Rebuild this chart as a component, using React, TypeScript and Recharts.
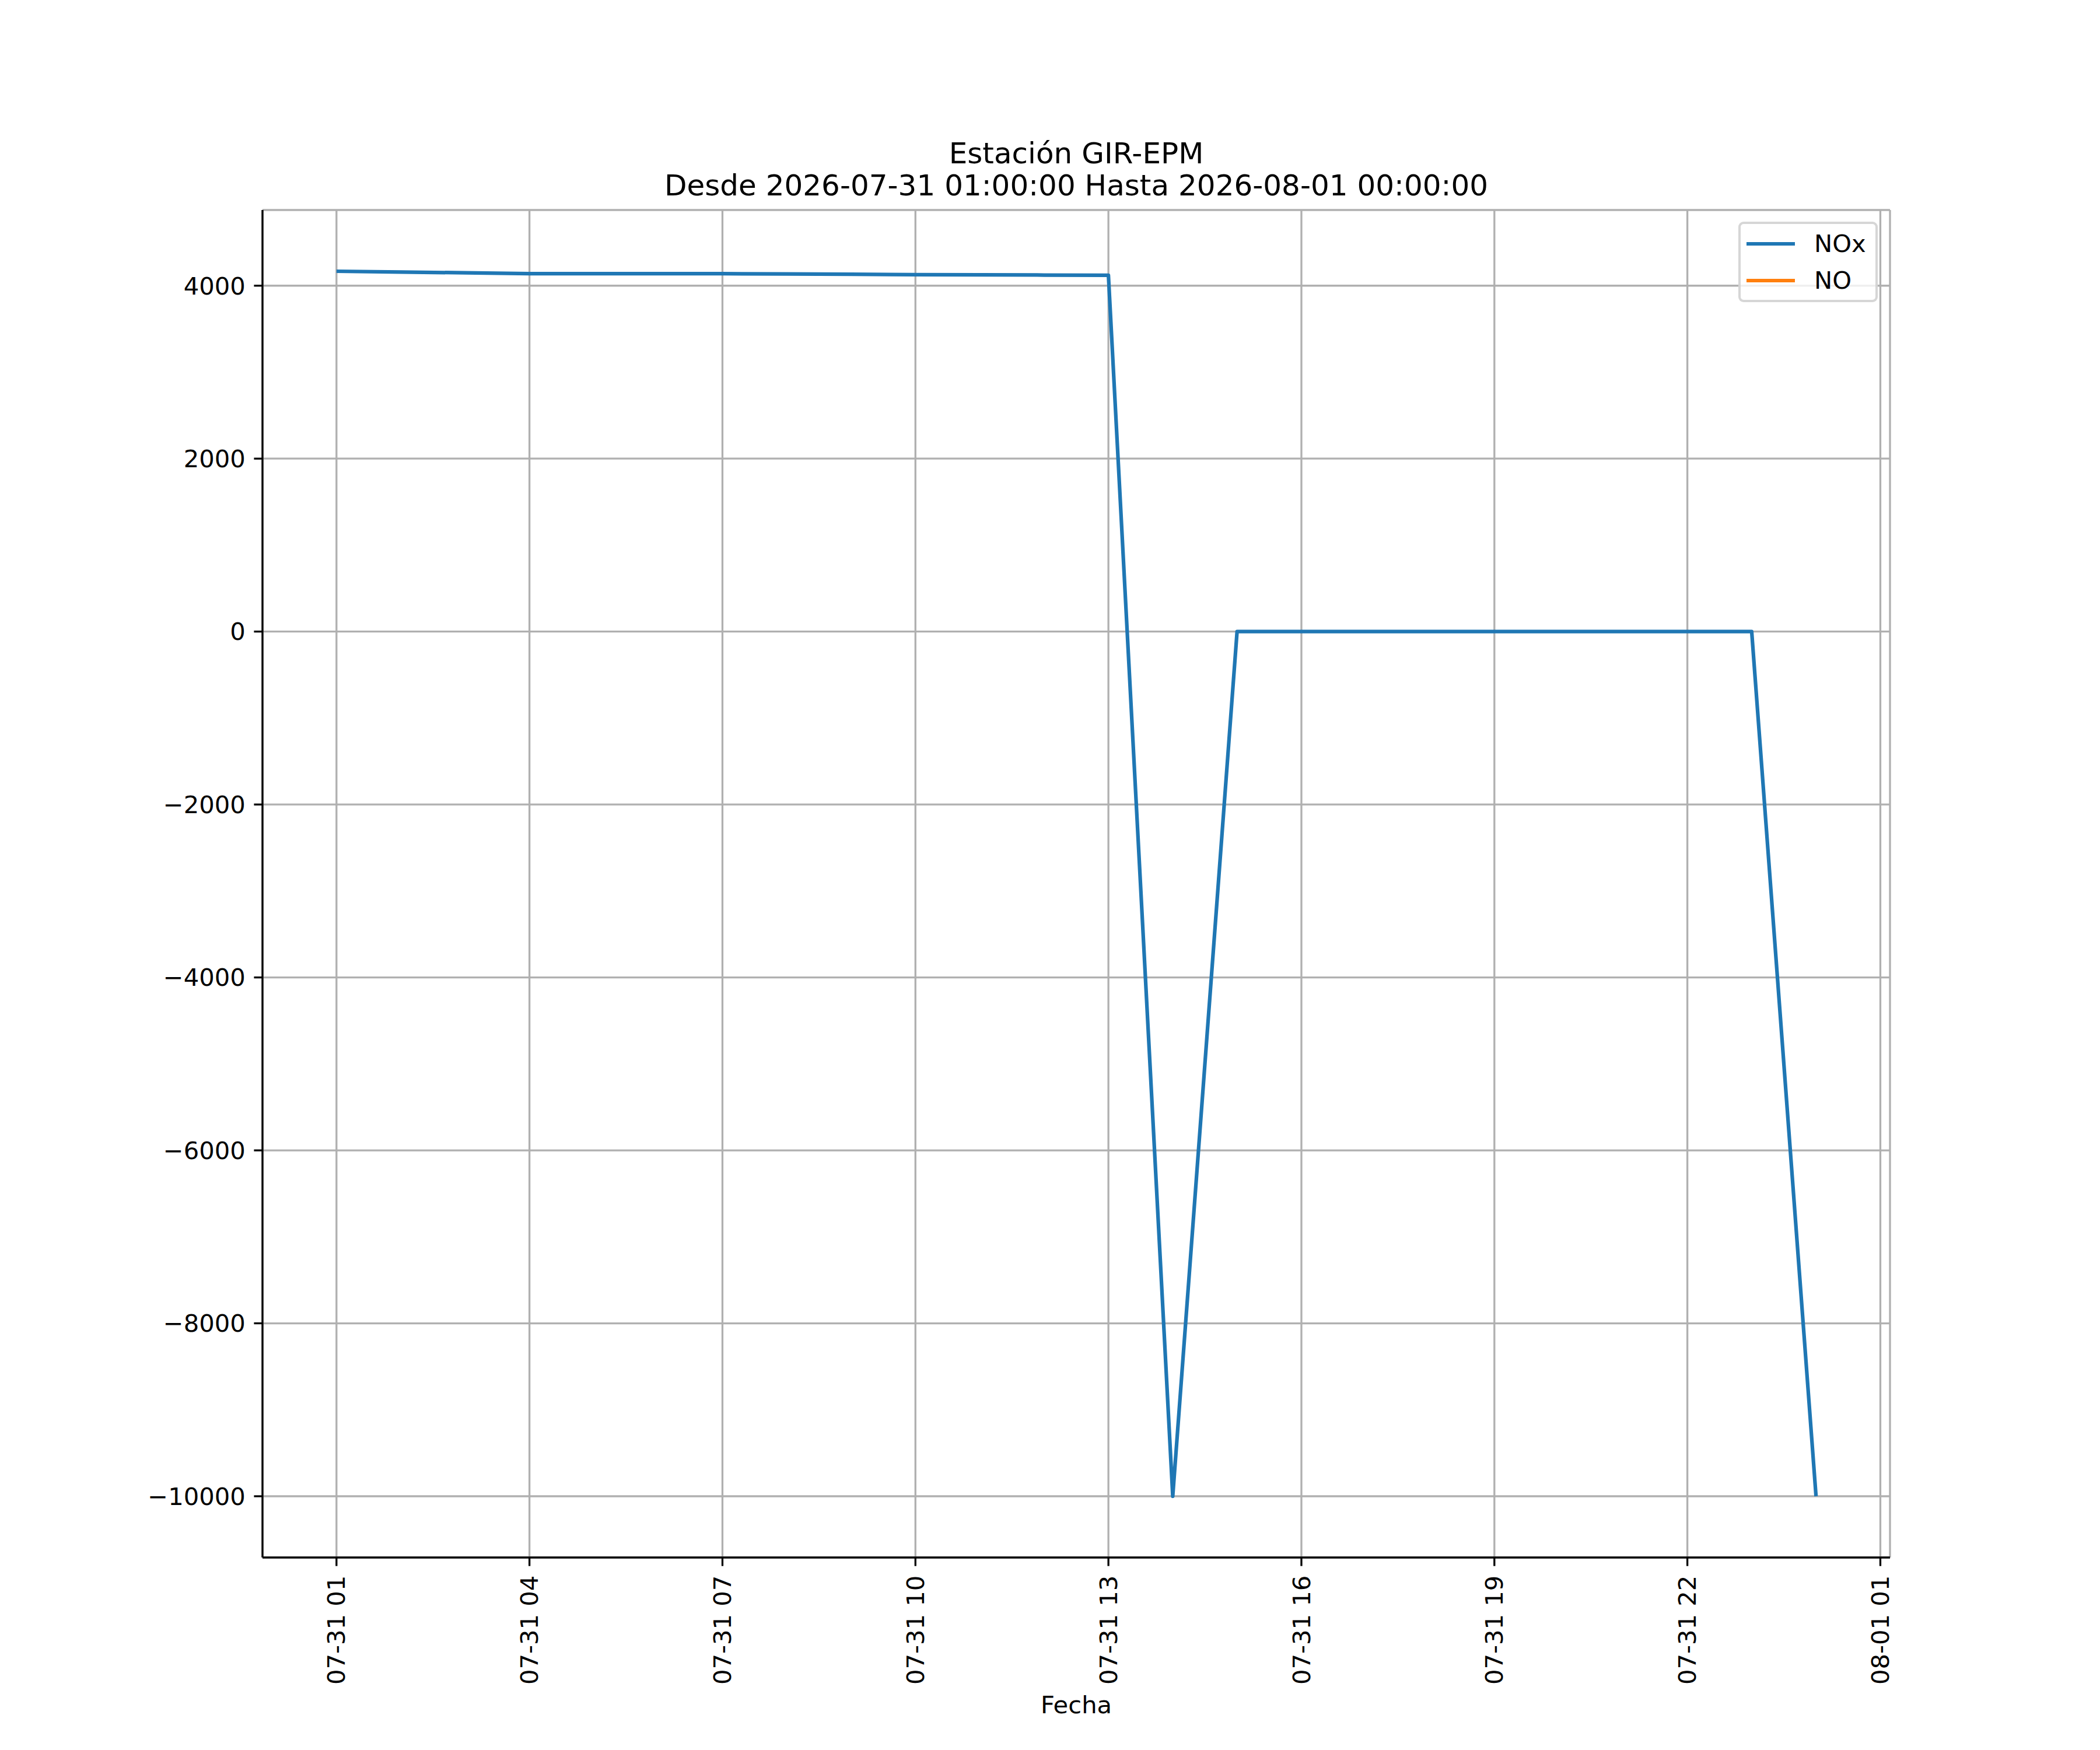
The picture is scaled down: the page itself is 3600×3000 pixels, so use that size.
import { CartesianGrid, Legend, Line, LineChart, XAxis, YAxis } from "recharts";

// hourly readings, station GIR-EPM
const times = [
  "2026-07-31 01:00", "2026-07-31 02:00", "2026-07-31 03:00", "2026-07-31 04:00",
  "2026-07-31 05:00", "2026-07-31 06:00", "2026-07-31 07:00", "2026-07-31 08:00",
  "2026-07-31 09:00", "2026-07-31 10:00", "2026-07-31 11:00", "2026-07-31 12:00",
  "2026-07-31 13:00", "2026-07-31 14:00", "2026-07-31 15:00", "2026-07-31 16:00",
  "2026-07-31 17:00", "2026-07-31 18:00", "2026-07-31 19:00", "2026-07-31 20:00",
  "2026-07-31 21:00", "2026-07-31 22:00", "2026-07-31 23:00", "2026-08-01 00:00",
];

const noxValues = [
  4167, 4158, 4149, 4140, 4140, 4140, 4139, 4136, 4132, 4128, 4126, 4123,
  4120, -10000, 0, 0, 0, 0, 0, 0, 0, 0, 0, -10000,
];

// NO has no valid readings in this window
const noValues = [
  null, null, null, null, null, null, null, null, null, null, null, null,
  null, null, null, null, null, null, null, null, null, null, null, null,
];

const xTickTimes = [
  "2026-07-31 01:00", "2026-07-31 04:00", "2026-07-31 07:00", "2026-07-31 10:00",
  "2026-07-31 13:00", "2026-07-31 16:00", "2026-07-31 19:00", "2026-07-31 22:00",
  "2026-08-01 01:00",
];

const yTicks = [-10000, -8000, -6000, -4000, -2000, 0, 2000, 4000];

const series = [
  { key: "nox", label: "NOx", color: "#1f77b4" },
  { key: "no", label: "NO", color: "#ff7f0e" },
];

const TITLE = ["Estación GIR-EPM", "Desde 2026-07-31 01:00:00 Hasta 2026-08-01 00:00:00"];
const X_LABEL = "Fecha";

const FONT = "'DejaVu Sans', sans-serif";
const TICK_FS = 41.7;
const SPINE = 3.3;

function toTs(s: string): number {
  return Date.parse(s.replace(" ", "T") + ":00Z");
}

const data = times.map((t, i) => ({ t: toTs(t), nox: noxValues[i], no: noValues[i] }));
const xTicks = xTickTimes.map(toTs);

// matplotlib-style 5% margins around the data
const tMin = Math.min(...data.map((d) => d.t));
const tMax = Math.max(...data.map((d) => d.t));
const tPad = (tMax - tMin) * 0.05;
const vMin = Math.min(...noxValues);
const vMax = Math.max(...noxValues);
const vPad = (vMax - vMin) * 0.05;

function pad2(n: number): string {
  return String(n).padStart(2, "0");
}

function formatTick(ts: number): string {
  const d = new Date(ts);
  return `${pad2(d.getUTCMonth() + 1)}-${pad2(d.getUTCDate())} ${pad2(d.getUTCHours())}`;
}

function formatY(v: number): string {
  return v < 0 ? "\u2212" + String(-v) : String(v);
}

function DateTick(props: any) {
  const { x, y, payload } = props;
  return (
    <g transform={`translate(${x},${y})`}>
      <text transform="rotate(-90)" textAnchor="end" dy="0.35em" fontSize={TICK_FS} fill="#000">
        {formatTick(payload.value)}
      </text>
    </g>
  );
}

function LegendBox(props: any) {
  const raw = props.payload || [];
  // keep plotting order (matplotlib does not sort legend entries)
  const items = series
    .map((s) => raw.find((it: any) => it.value === s.label))
    .filter(Boolean);
  return (
    <div
      style={{
        boxSizing: "border-box",
        width: 239,
        height: 138,
        border: "4px solid rgba(204,204,204,0.8)",
        borderRadius: 9,
        background: "rgba(255,255,255,0.8)",
        paddingTop: 2,
        fontFamily: FONT,
        fontSize: TICK_FS,
      }}
    >
      {items.map((it: any) => (
        <div key={it.value} style={{ display: "flex", alignItems: "center", height: 63 }}>
          <div style={{ width: 83, height: 6, background: it.color, marginLeft: 10 }} />
          <span style={{ marginLeft: 33, lineHeight: 1, color: "#000" }}>{it.value}</span>
        </div>
      ))}
    </div>
  );
}

export default function App() {
  return (
    <div
      style={{
        position: "absolute",
        left: 0,
        top: 0,
        width: 3600,
        height: 3000,
        background: "#fff",
        fontFamily: FONT,
      }}
    >
      <div
        style={{
          position: "absolute",
          left: 450,
          top: 236,
          width: 2790,
          textAlign: "center",
          fontSize: 50,
          lineHeight: "55px",
          color: "#000",
        }}
      >
        {TITLE.map((line) => (
          <div key={line}>{line}</div>
        ))}
      </div>

      <LineChart
        width={3600}
        height={3000}
        data={data}
        margin={{ top: 360, right: 360, left: 0, bottom: 0 }}
      >
        <CartesianGrid stroke="#b0b0b0" strokeWidth={3.3} />
        <XAxis
          dataKey="t"
          type="number"
          domain={[tMin - tPad, tMax + tPad]}
          allowDataOverflow
          ticks={xTicks}
          interval={0}
          height={330}
          tick={<DateTick />}
          tickSize={14.6}
          tickMargin={16}
          tickLine={{ stroke: "#000", strokeWidth: SPINE }}
          axisLine={{ stroke: "#000", strokeWidth: SPINE }}
        />
        <XAxis
          xAxisId="top"
          orientation="top"
          dataKey="t"
          type="number"
          domain={[tMin - tPad, tMax + tPad]}
          height={0}
          tick={false}
          tickLine={false}
          axisLine={{ stroke: "#000", strokeWidth: SPINE }}
        />
        <YAxis
          type="number"
          domain={[vMin - vPad, vMax + vPad]}
          allowDataOverflow
          ticks={yTicks}
          interval={0}
          width={450}
          tickFormatter={formatY}
          tick={{ fontSize: TICK_FS, fill: "#000" }}
          tickSize={14.6}
          tickMargin={14.6}
          tickLine={{ stroke: "#000", strokeWidth: SPINE }}
          axisLine={{ stroke: "#000", strokeWidth: SPINE }}
        />
        <YAxis
          yAxisId="right"
          orientation="right"
          type="number"
          domain={[vMin - vPad, vMax + vPad]}
          width={0}
          tick={false}
          tickLine={false}
          axisLine={{ stroke: "#000", strokeWidth: SPINE }}
        />
        <Legend
          layout="vertical"
          align="center"
          verticalAlign="middle"
          content={<LegendBox />}
          wrapperStyle={{ left: 2980, top: 380, width: 239, height: 138, bottom: "auto", right: "auto" }}
        />
        {series.map((s) => (
          <Line
            key={s.key}
            type="linear"
            dataKey={s.key}
            name={s.label}
            stroke={s.color}
            strokeWidth={6.25}
            strokeLinejoin="round"
            dot={false}
            activeDot={false}
            isAnimationActive={false}
          />
        ))}
      </LineChart>

      <div
        style={{
          position: "absolute",
          left: 450,
          top: 2902,
          width: 2790,
          textAlign: "center",
          fontSize: TICK_FS,
          lineHeight: 1,
          color: "#000",
        }}
      >
        {X_LABEL}
      </div>
    </div>
  );
}
